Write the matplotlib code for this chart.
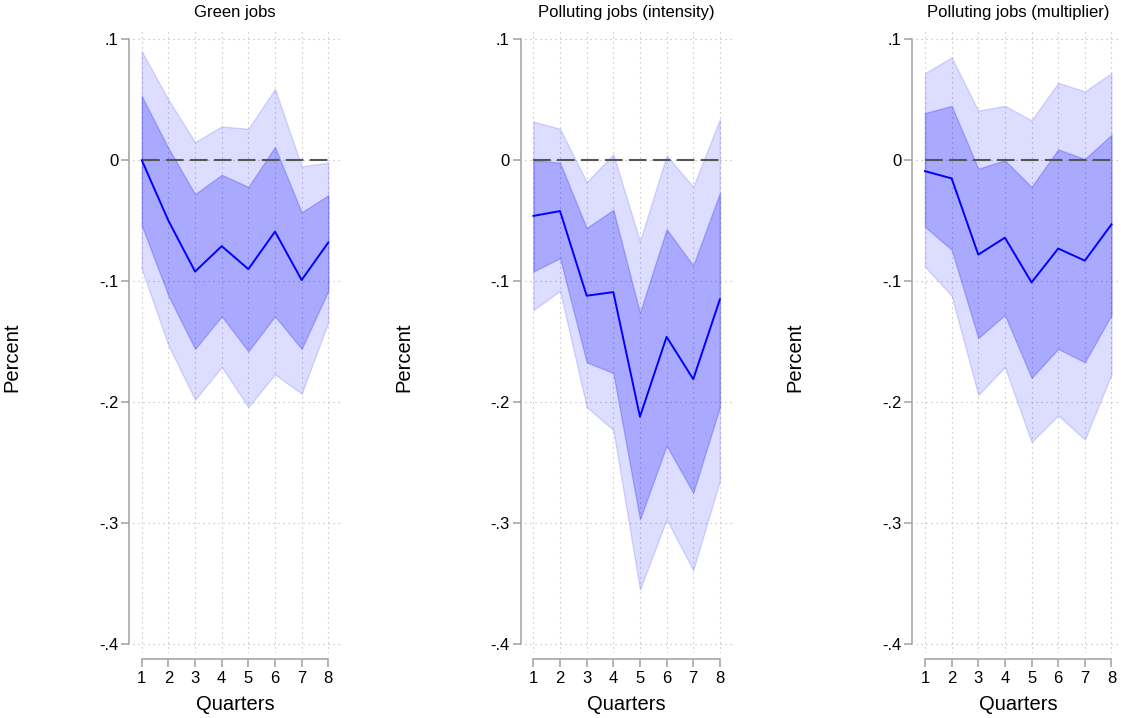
import matplotlib
matplotlib.use("Agg")
import matplotlib.pyplot as plt
import numpy as np

plt.rcParams['font.family'] = ['Liberation Sans', 'DejaVu Sans']

quarters = [1, 2, 3, 4, 5, 6, 7, 8]
titles = ["Green jobs", "Polluting jobs (intensity)", "Polluting jobs (multiplier)"]
ytick_vals = [0.1, 0.0, -0.1, -0.2, -0.3, -0.4]
ytick_labels = [".1", "0", "-.1", "-.2", "-.3", "-.4"]

# Green jobs
green_mean = [0.000, -0.050, -0.092, -0.071, -0.090, -0.059, -0.099, -0.068]
green_in_hi = [0.053, 0.010, -0.028, -0.012, -0.022, 0.011, -0.043, -0.029]
green_in_lo = [-0.054, -0.112, -0.156, -0.129, -0.158, -0.129, -0.156, -0.108]
green_out_hi = [0.090, 0.050, 0.015, 0.028, 0.026, 0.059, -0.005, -0.002]
green_out_lo = [-0.090, -0.153, -0.198, -0.171, -0.204, -0.177, -0.193, -0.134]

# Polluting jobs (intensity)
inten_mean = [-0.046, -0.042, -0.112, -0.109, -0.212, -0.146, -0.181, -0.115]
inten_in_hi = [0.000, -0.002, -0.056, -0.041, -0.126, -0.057, -0.087, -0.027]
inten_in_lo = [-0.092, -0.081, -0.167, -0.176, -0.297, -0.236, -0.275, -0.204]
inten_out_hi = [0.032, 0.026, -0.018, 0.005, -0.067, 0.004, -0.022, 0.034]
inten_out_lo = [-0.124, -0.108, -0.204, -0.223, -0.355, -0.297, -0.339, -0.265]

# Polluting jobs (multiplier)
mult_mean = [-0.009, -0.015, -0.078, -0.064, -0.101, -0.073, -0.083, -0.053]
mult_in_hi = [0.039, 0.045, -0.007, 0.000, -0.022, 0.009, 0.001, 0.021]
mult_in_lo = [-0.055, -0.074, -0.147, -0.128, -0.180, -0.156, -0.167, -0.128]
mult_out_hi = [0.072, 0.085, 0.041, 0.045, 0.033, 0.064, 0.057, 0.072]
mult_out_lo = [-0.088, -0.112, -0.194, -0.171, -0.233, -0.211, -0.231, -0.177]

panels = [
    (green_mean, green_in_lo, green_in_hi, green_out_lo, green_out_hi),
    (inten_mean, inten_in_lo, inten_in_hi, inten_out_lo, inten_out_hi),
    (mult_mean, mult_in_lo, mult_in_hi, mult_out_lo, mult_out_hi),
]

W, H = 1121, 718
fig = plt.figure(figsize=(W / 100, H / 100), dpi=100)

xlim = (0.67, 8.56)
ylim = (-0.4074, 0.1058)
px_per_x = 26.64
ax_top_px, ax_bot_px = 32.3, 653.0
grid_col = "#b4b4b4"
spine_col = "#a0a0a0"

for i, (title, data) in enumerate(zip(titles, panels)):
    mean, in_lo, in_hi, out_lo, out_hi = data
    x1_px = 141.8 + 391.6 * i
    left_px = x1_px - (1 - xlim[0]) * px_per_x
    width_px = (xlim[1] - xlim[0]) * px_per_x
    ax = fig.add_axes([left_px / W, (H - ax_bot_px) / H, width_px / W,
                       (ax_bot_px - ax_top_px) / H])
    ax.set_xlim(*xlim)
    ax.set_ylim(*ylim)

    ax.fill_between(quarters, out_lo, out_hi, facecolor=(0, 0, 1, 0.135),
                    edgecolor=(0.3, 0.3, 1, 0.2), linewidth=1.0, zorder=2)
    ax.fill_between(quarters, in_lo, in_hi, facecolor=(0, 0, 1, 0.235),
                    edgecolor=(0.2, 0.2, 0.9, 0.28), linewidth=1.0, zorder=3)
    ax.plot(quarters, [0] * len(quarters), color="#555555", linewidth=1.5,
            linestyle=(0, (8.5, 3.0)), zorder=4)
    ax.plot(quarters, mean, color="#0000ff", linewidth=1.4, zorder=5)

    ax.set_xticks(quarters)
    ax.set_xticklabels([str(q) for q in quarters])
    ax.set_yticks(ytick_vals)
    ax.set_yticklabels(ytick_labels)
    ax.grid(True, color=grid_col, linestyle=(0, (1, 3.5)), linewidth=0.8, zorder=1)
    ax.set_axisbelow(True)

    for s in ["top", "right"]:
        ax.spines[s].set_visible(False)
    ax.spines["left"].set_position(("outward", 2.7))
    ax.spines["bottom"].set_position(("outward", 4.3))
    ax.spines["left"].set_bounds(-0.4, 0.1)
    ax.spines["bottom"].set_bounds(1, 8)
    for s in ["left", "bottom"]:
        ax.spines[s].set_color(spine_col)
        ax.spines[s].set_linewidth(1.1)
    ax.tick_params(axis="both", colors=spine_col, width=1.1, labelcolor="black",
                   labelsize=12)
    ax.tick_params(axis="y", length=6, pad=2)
    ax.tick_params(axis="x", length=5.5, pad=3)

    cx = x1_px + 3.5 * px_per_x
    fig.text(cx / W, 1 - 12 / H, title, ha="center", va="center", fontsize=12)
    fig.text(cx / W, 1 - 705 / H, "Quarters", ha="center", va="center", fontsize=14.5)
    fig.text((12 + 391.6 * i) / W, 1 - 357 / H, "Percent", ha="center",
             va="center", rotation=90, fontsize=14.5)

fig.savefig("out.png", dpi=100)
